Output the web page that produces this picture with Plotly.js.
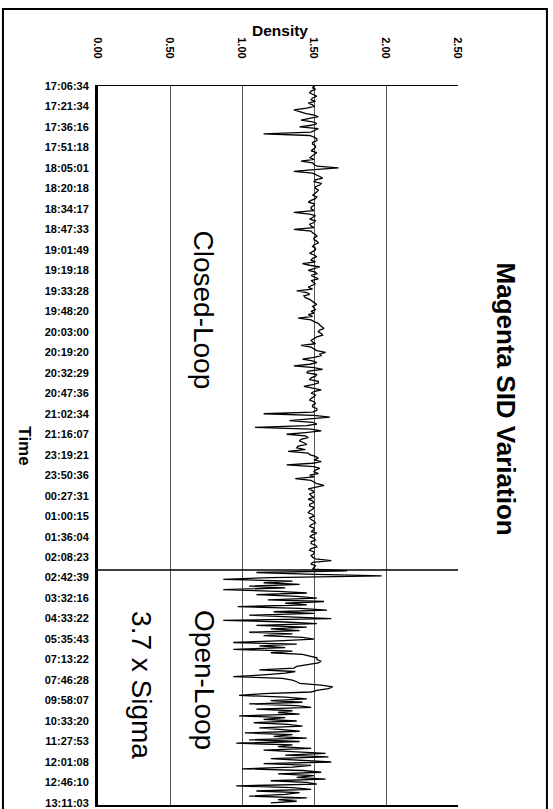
<!DOCTYPE html>
<html>
<head>
<meta charset="utf-8">
<script src="https://cdn.plot.ly/plotly-3.0.1.min.js"></script>
<style>
  html, body { margin: 0; padding: 0; background: #ffffff; }
  #chart { width: 553px; height: 809px; }
</style>
</head>
<body>
<div id="chart"></div>
<script>
// ---- data ----
const timeLabels = [
  "17:06:34","17:21:34","17:36:16","17:51:18","18:05:01","18:20:18",
  "18:34:17","18:47:33","19:01:49","19:19:18","19:33:28","19:48:20",
  "20:03:00","20:19:20","20:32:29","20:47:36","21:02:34","21:16:07",
  "23:19:21","23:50:36","00:27:31","01:00:15","01:36:04","02:08:23",
  "02:42:39","03:32:16","04:33:22","05:35:43","07:13:22","07:46:28",
  "09:58:07","10:33:20","11:27:53","12:01:08","12:46:10","13:11:03"
];
const samplesPerLabel = 12;

const closedLoopDensity = [
  1.50,1.49,1.51,1.48,1.47,1.50,1.52,1.49,1.48,1.51,1.46,1.49,
  1.50,1.45,1.36,1.40,1.44,1.50,1.53,1.47,1.41,1.49,1.52,1.48,
  1.40,1.53,1.51,1.48,1.15,1.47,1.50,1.52,1.52,1.49,1.49,1.51,
  1.51,1.49,1.48,1.52,1.50,1.48,1.47,1.50,1.41,1.49,1.50,1.52,
  1.67,1.50,1.36,1.49,1.52,1.54,1.56,1.51,1.50,1.55,1.54,1.51,
  1.51,1.53,1.52,1.50,1.49,1.52,1.51,1.48,1.46,1.50,1.50,1.48,
  1.48,1.50,1.36,1.47,1.51,1.49,1.47,1.51,1.50,1.47,1.48,1.50,
  1.36,1.48,1.49,1.51,1.52,1.50,1.50,1.52,1.53,1.50,1.49,1.51,
  1.51,1.49,1.47,1.50,1.52,1.49,1.48,1.51,1.42,1.47,1.54,1.50,
  1.46,1.51,1.52,1.48,1.50,1.53,1.48,1.50,1.51,1.48,1.46,1.49,
  1.38,1.45,1.47,1.43,1.44,1.47,1.49,1.51,1.52,1.49,1.50,1.51,
  1.48,1.50,1.46,1.49,1.39,1.48,1.50,1.53,1.54,1.56,1.57,1.54,
  1.53,1.55,1.56,1.52,1.50,1.48,1.49,1.51,1.41,1.48,1.50,1.52,
  1.58,1.54,1.55,1.50,1.42,1.49,1.52,1.47,1.36,1.50,1.56,1.46,
  1.45,1.52,1.51,1.48,1.47,1.53,1.53,1.49,1.43,1.50,1.55,1.50,
  1.48,1.51,1.50,1.48,1.47,1.50,1.51,1.49,1.49,1.52,1.52,1.49,
  1.15,1.50,1.61,1.47,1.33,1.49,1.52,1.45,1.09,1.48,1.55,1.44,
  1.31,1.44,1.46,1.41,1.40,1.43,1.45,1.39,1.38,1.44,1.32,1.46,
  1.47,1.51,1.53,1.50,1.55,1.49,1.31,1.50,1.54,1.51,1.50,1.53,
  1.47,1.50,1.37,1.48,1.50,1.52,1.57,1.50,1.46,1.49,1.50,1.47,
  1.48,1.50,1.46,1.49,1.50,1.47,1.47,1.50,1.49,1.47,1.46,1.49,
  1.50,1.47,1.48,1.50,1.51,1.48,1.47,1.50,1.50,1.48,1.52,1.49,
  1.47,1.50,1.51,1.48,1.48,1.51,1.52,1.48,1.47,1.50,1.50,1.48,
  1.49,1.51,1.62,1.49,1.48,1.51,1.50,1.49
];
const openLoopDensity = [
  1.73,1.10,1.45,1.97,
  1.20,0.87,1.35,1.15,1.40,1.05,1.30,0.87,1.25,1.45,1.10,1.38,
  1.52,1.18,1.57,1.30,1.45,0.97,1.40,1.59,1.22,1.50,1.05,1.35,
  1.62,0.87,1.30,1.52,1.10,1.45,1.20,1.40,1.05,1.35,1.15,1.42,
  1.50,1.25,0.94,1.38,1.12,1.30,0.94,1.35,1.20,1.42,1.48,1.52,
  1.52,1.55,1.53,1.45,1.38,1.36,1.12,1.37,1.30,1.15,0.94,1.28,
  1.35,1.38,1.40,1.55,1.63,1.60,1.52,1.48,1.15,0.98,1.30,1.45,
  1.20,1.42,1.05,1.38,1.48,1.10,1.35,1.25,1.40,0.98,1.30,1.15,
  1.38,1.08,1.32,1.42,1.12,1.28,1.40,1.02,1.35,1.22,1.45,1.05,
  1.40,0.96,1.35,1.25,1.48,1.15,1.42,1.58,1.30,1.60,1.20,1.45,
  1.62,1.15,1.48,1.35,1.00,1.42,1.55,1.25,1.50,1.38,1.58,1.20,
  1.45,1.52,0.96,1.35,1.48,1.10,1.40,1.30,1.05,1.45,1.25,1.38,
  1.20
];
const densityTicks = [0, 0.5, 1.0, 1.5, 2.0, 2.5];

// ---- build ----
const density = closedLoopDensity.concat(openLoopDensity);
const sampleIndex = density.map((_, i) => i);
const labelIndex = timeLabels.map((_, i) => i * samplesPerLabel);
const lastIndex = density.length - 1;
const boundary = closedLoopDensity.length - 0.5;

const FONT = "Liberation Sans, Arial, sans-serif";

const trace = {
  type: "scatter",
  mode: "lines",
  x: density,
  y: sampleIndex,
  line: { color: "#000000", width: 1.3 },
  hoverinfo: "skip",
  showlegend: false
};

function label(text, x, y, size, bold) {
  return {
    xref: "paper", yref: "paper", x: x, y: y, text: text,
    xanchor: "center", yanchor: "middle", textangle: 90, showarrow: false,
    font: { family: FONT, size: size, color: "#000", weight: bold ? "bold" : "normal" }
  };
}

const layout = {
  width: 553,
  height: 809,
  margin: { l: 98, r: 95, t: 86, b: 4, pad: 0 },
  paper_bgcolor: "#ffffff",
  plot_bgcolor: "#ffffff",
  font: { family: FONT, color: "#000000" },
  xaxis: {
    side: "top",
    range: [0, 2.5],
    tickvals: densityTicks,
    tickformat: ".2f",
    tickangle: 90,
    tickfont: { family: FONT, size: 11, color: "#000", weight: "bold" },
    ticks: "",
    ticklabelstandoff: 22,
    showgrid: true,
    gridcolor: "#555555",
    gridwidth: 1,
    zeroline: false,
    showline: true,
    linecolor: "#000000",
    linewidth: 1.5,
    mirror: true
  },
  yaxis: {
    range: [lastIndex + 1.2, 0],
    tickvals: labelIndex,
    ticktext: timeLabels,
    tickfont: { family: FONT, size: 11, color: "#000", weight: "bold" },
    ticks: "",
    ticklabelstandoff: 4,
    showgrid: false,
    zeroline: false,
    showline: true,
    linecolor: "#000000",
    linewidth: 3
  },
  shapes: [
    { type: "line", xref: "paper", yref: "y", x0: 0, x1: 1, y0: boundary, y1: boundary,
      line: { color: "#000000", width: 1.5 } },
    { type: "rect", xref: "paper", yref: "paper", x0: -0.264, x1: 1.247, y0: -0.01, y1: 1.107,
      line: { color: "#000000", width: 2 } }
  ],
  annotations: [
    { xref: "paper", yref: "paper", x: 0.505, y: 1.077, text: "Density",
      xanchor: "center", yanchor: "middle", showarrow: false,
      font: { family: FONT, size: 15.5, color: "#000", weight: "bold" } },
    label("Magenta SID Variation", 1.133, 0.564, 26, true),
    label("Time", -0.203, 0.499, 17, true),
    label("Closed-Loop", 0.294, 0.688, 28, false),
    label("Open-Loop", 0.294, 0.174, 28, false),
    label("3.7 x Sigma", 0.119, 0.167, 28, false)
  ]
};

Plotly.newPlot("chart", [trace], layout, { displayModeBar: false, staticPlot: true });
</script>
</body>
</html>
